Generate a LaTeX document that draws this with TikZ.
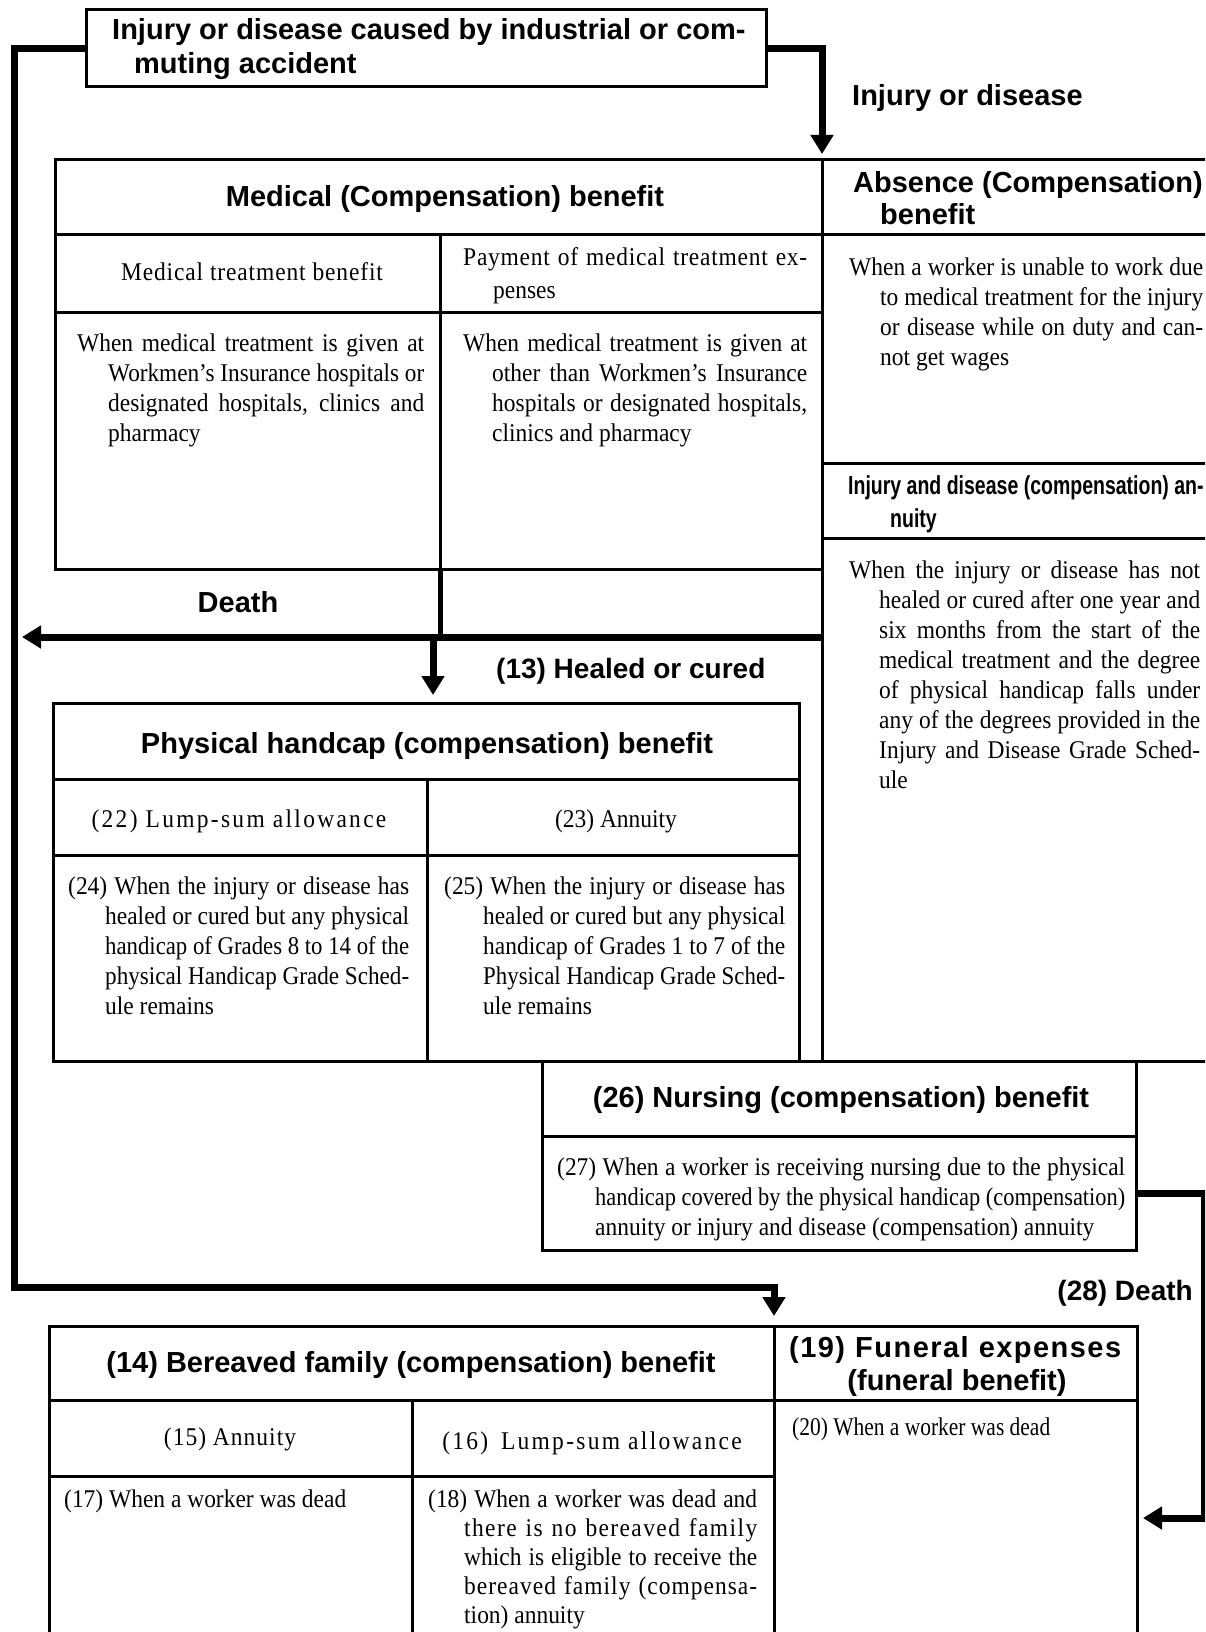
\documentclass[tikz,border=0pt]{standalone}
\usepackage{fontspec}
\usepackage{graphicx}
\setmainfont{Liberation Serif}[FakeStretch=0.92]
\newfontfamily\hsans{Liberation Sans}
\usetikzlibrary{arrows.meta}
\newlength\jlw
\newcommand\jline[2]{\settowidth\jlw{#2}\ifdim\jlw>#1\relax\resizebox{#1}{\height}{#2}\else\makebox[#1][s]{#2}\fi}
\tikzset{
  cell/.style={draw, line width=3pt, anchor=north west, inner sep=0pt, outer sep=0pt},
  sep/.style={line width=3pt},
  conn/.style={line width=7pt},
  arr/.style={-{Triangle[width=22pt,length=19pt]}},
  sb/.style={font=\hsans\bfseries\fontsize{29}{34}\selectfont, inner sep=0pt},
  sr/.style={font=\fontsize{25.5}{30}\selectfont, inner sep=0pt},
  para/.style={sr, anchor=north west, align=left},
}
\begin{document}
\begin{tikzpicture}[x=1pt,y=-1pt]
\useasboundingbox (0,0) rectangle (1205,1632);
\clip (0,0) rectangle (1205,1632);
\fill[white] (0,0) rectangle (1205,1632);

% ---------- boxes ----------
\node[cell, minimum width=680pt, minimum height=77pt] (acc) at (86,10) {};
\node[cell, minimum width=767pt, minimum height=409pt] (med) at (55,160) {};
\node[cell, minimum width=400pt, minimum height=901pt] (abs) at (822,160) {};
\node[cell, minimum width=746pt, minimum height=358pt] (phb) at (53,703) {};
\node[cell, minimum width=594pt, minimum height=189pt] (nur) at (542,1061) {};
\node[cell, minimum width=725pt, minimum height=340pt] (bf) at (49,1326) {};
\node[cell, minimum width=363pt, minimum height=340pt] (fun) at (774,1326) {};

% ---------- separators ----------
\draw[sep] (55,234) -- (1222,234);
\draw[sep] (55,312) -- (822,312);
\draw[sep] (440,234) -- (440,569);
\draw[sep] (822,463) -- (1222,463);
\draw[sep] (822,538) -- (1222,538);
\draw[sep] (53,779) -- (799,779);
\draw[sep] (53,855) -- (799,855);
\draw[sep] (427,779) -- (427,1061);
\draw[sep] (phb.south east) -- (abs.south west);
\draw[sep] (542,1136) -- (1136,1136);
\draw[sep] (49,1400) -- (1137,1400);
\draw[sep] (49,1476) -- (774,1476);
\draw[sep] (412,1400) -- (412,1670);

% ---------- connectors ----------
\coordinate (cL) at (14,1287);
\draw[conn, arr, shorten >=10pt] (acc.west) -| (cL) -| (fun.north west);
\draw[conn, arr, shorten >=6pt] (acc.east) -| (abs.north west);
\coordinate (dR) at (822,637);
\coordinate (dL) at (22,637);
\draw[conn, arr] (dR) -- (dL);
\coordinate (mS) at (440,569);
\draw[line width=5pt] (mS) -- (mS |- dR);
\coordinate (hc) at (433,637);
\draw[conn, arr, shorten >=8pt] (hc) -- (hc |- phb.north);
\coordinate (cR) at (1204,1518);
\draw[conn, arr, shorten >=6pt] ([yshift=-37.5pt]nur.east) -| (cR) -- (cR -| fun.east);

% ---------- bold sans labels ----------
\node[sb, anchor=base west] (t1) at (112,40) {Injury or disease caused by industrial or com-};
\node[sb, anchor=base west] (t2) at (134,74) {muting accident};
\node[sb, anchor=base west] (lid) at (852,106) {Injury or disease};
\node[sb, anchor=base] (hmed) at (445,207) {Medical (Compensation) benefit};
\node[sb, anchor=base west] (habs1) at (853,193) {Absence (Compensation)};
\node[sb, anchor=base west] (habs2) at (880,225) {benefit};
\node[sb, anchor=base west, font=\hsans\bfseries\fontsize{26}{30}\selectfont] (hia1) at (848,494) {\scalebox{0.75}[1]{Injury and disease (compensation) an-}};
\node[sb, anchor=base west, font=\hsans\bfseries\fontsize{26}{30}\selectfont] (hia2) at (890,527) {\scalebox{0.75}[1]{nuity}};
\node[sb, anchor=base] (ldeath) at (238,612) {Death};
\node[sb, anchor=base west, font=\hsans\bfseries\fontsize{28}{34}\selectfont] (lheal) at (496,678) {(13) Healed or cured};
\node[sb, anchor=base] (hphb) at (427,753) {Physical handcap (compensation) benefit};
\node[sb, anchor=base] (hnur) at (841,1107) {(26) Nursing (compensation) benefit};
\node[sb, anchor=base east, font=\hsans\bfseries\fontsize{28}{34}\selectfont] (ldeath2) at (1193,1300) {(28) Death};
\node[sb, anchor=base] (hbf) at (411,1372) {(14) Bereaved family (compensation) benefit};
\node[sb, anchor=base west] (hfun1) at (789,1357) {\jline{332pt}{\addfontfeatures{LetterSpace=5}(19) Funeral expenses}};
\node[sb, anchor=base] (hfun2) at (957,1390) {(funeral benefit)};

% ---------- serif sub headers ----------
\node[sr, anchor=base] (hmtb) at (252,280) {\addfontfeatures{LetterSpace=3.5}Medical treatment benefit};
\node[para, font=\fontsize{25.5}{33}\selectfont] (hpay) at (463,242) {\strut\jline{344pt}{\addfontfeatures{LetterSpace=3}Payment of medical treatment ex-}\\\hspace*{30pt}penses};
\node[sr, anchor=base] (h22) at (239,827) {\addfontfeatures{LetterSpace=9}(22) Lump-sum allowance};
\node[sr, anchor=base] (h23) at (616,827) {(23) Annuity};
\node[sr, anchor=base] (h15) at (230,1445) {\addfontfeatures{LetterSpace=4}(15) Annuity};
\node[sr, anchor=base] (h16) at (592,1449) {\addfontfeatures{LetterSpace=9}(16)\enspace Lump-sum allowance};

% ---------- serif paragraphs ----------
\node[para] (pml) at (77,330) {\strut\jline{347pt}{When medical treatment is given at}\\
\hspace*{31pt}\jline{316pt}{Workmen's Insurance hospitals or}\\
\hspace*{31pt}\jline{316pt}{designated hospitals, clinics and}\\
\hspace*{31pt}pharmacy};
\node[para] (pmm) at (463,330) {\strut\jline{344pt}{When medical treatment is given at}\\
\hspace*{29pt}\jline{315pt}{other than Workmen's Insurance}\\
\hspace*{29pt}\jline{315pt}{hospitals or designated hospitals,}\\
\hspace*{29pt}clinics and pharmacy};
\node[para] (pab) at (849,254) {\strut\jline{354pt}{When a worker is unable to work due}\\
\hspace*{31pt}\jline{323pt}{to medical treatment for the injury}\\
\hspace*{31pt}\jline{323pt}{or disease while on duty and can-}\\
\hspace*{31pt}not get wages};
\node[para] (pia) at (849,557) {\strut\jline{351pt}{When the injury or disease has not}\\
\hspace*{30pt}\jline{321pt}{healed or cured after one year and}\\
\hspace*{30pt}\jline{321pt}{six months from the start of the}\\
\hspace*{30pt}\jline{321pt}{medical treatment and the degree}\\
\hspace*{30pt}\jline{321pt}{of physical handicap falls under}\\
\hspace*{30pt}\jline{321pt}{any of the degrees provided in the}\\
\hspace*{30pt}\jline{321pt}{Injury and Disease Grade Sched-}\\
\hspace*{30pt}ule};
\node[para] (p24) at (68,873) {\strut\jline{341pt}{(24) When the injury or disease has}\\
\hspace*{37pt}\jline{304pt}{healed or cured but any physical}\\
\hspace*{37pt}\jline{304pt}{handicap of Grades 8 to 14 of the}\\
\hspace*{37pt}\jline{304pt}{physical Handicap Grade Sched-}\\
\hspace*{37pt}ule remains};
\node[para] (p25) at (444,873) {\strut\jline{341pt}{(25) When the injury or disease has}\\
\hspace*{39pt}\jline{302pt}{healed or cured but any physical}\\
\hspace*{39pt}\jline{302pt}{handicap of Grades 1 to 7 of the}\\
\hspace*{39pt}\jline{302pt}{Physical Handicap Grade Sched-}\\
\hspace*{39pt}ule remains};
\node[para] (p27) at (557,1154) {\strut\jline{568pt}{(27) When a worker is receiving nursing due to the physical}\\
\hspace*{38pt}\jline{530pt}{handicap covered by the physical handicap (compensation)}\\
\hspace*{38pt}annuity or injury and disease (compensation) annuity};
\node[sr, anchor=base west] (p17) at (64,1507) {(17) When a worker was dead};
\node[para, font=\fontsize{25.5}{29}\selectfont] (p18) at (428,1486.7) {\strut\jline{329pt}{(18) When a worker was dead and}\\
\hspace*{36pt}\jline{293pt}{\addfontfeatures{LetterSpace=5.5}there is no bereaved family}\\
\hspace*{36pt}\jline{293pt}{which is eligible to receive the}\\
\hspace*{36pt}\jline{293pt}{\addfontfeatures{LetterSpace=4}bereaved family (compensa-}\\
\hspace*{36pt}tion) annuity};
\node[sr, anchor=base west] (p20) at (792,1435) {\jline{258pt}{(20) When a worker was dead}};
\end{tikzpicture}
\end{document}
